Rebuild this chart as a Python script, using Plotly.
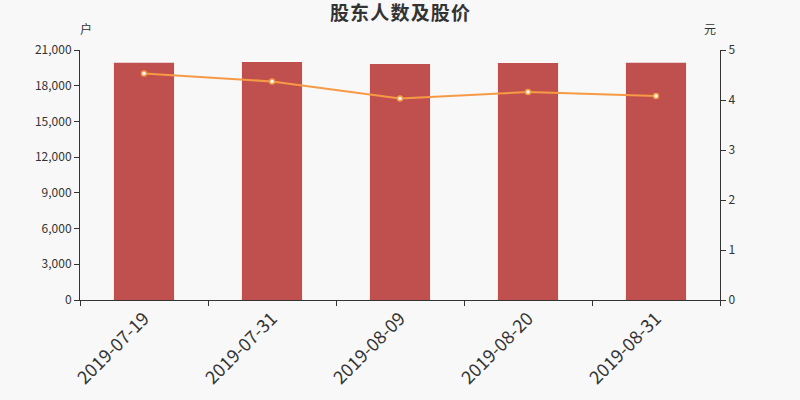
import plotly.graph_objects as go

dates = ["2019-07-19", "2019-07-31", "2019-08-09", "2019-08-20", "2019-08-31"]
holders = [19930, 19990, 19830, 19900, 19930]
price = [4.53, 4.37, 4.03, 4.16, 4.08]

font_cn = "Noto Sans CJK SC, DejaVu Sans, sans-serif"

fig = go.Figure()
fig.add_trace(go.Bar(x=dates, y=holders, name="股东人数", marker_color="#c0504d",
                     marker_line_width=0, width=0.47, yaxis="y"))
fig.add_trace(go.Scatter(x=dates, y=price, name="股价", mode="lines+markers",
                         line=dict(color="#f79a45", width=2),
                         marker=dict(size=5, color="#ffffff", line=dict(color="#f79a45", width=1.5)),
                         yaxis="y2"))

fig.update_layout(
    width=800, height=400,
    paper_bgcolor="#f8f8f8", plot_bgcolor="#f8f8f8",
    margin=dict(l=80, r=80, t=50, b=100),
    showlegend=False,
    title=dict(text="\u200a".join("股东人数及股价"), x=0.5, y=0.967, xanchor="center", yanchor="middle",
               font=dict(family=font_cn, size=19, color="#333333", weight=600)),
    font=dict(family=font_cn, color="#333333"),
    xaxis=dict(type="category", tickangle=-45, tickson="boundaries", ticks="outside",
               ticklen=5, tickcolor="#333333", showline=True, linecolor="#333333",
               showgrid=False, tickfont=dict(size=18, color="#333333")),
    yaxis=dict(range=[0, 21000], dtick=3000, tickformat=",d", showgrid=False,
               showline=True, linecolor="#333333", ticks="outside", ticklen=5,
               tickcolor="#333333", tickfont=dict(size=12, color="#333333"), zeroline=False),
    yaxis2=dict(range=[0, 5], dtick=1, overlaying="y", side="right", showgrid=False,
                showline=True, linecolor="#333333", ticks="outside", ticklen=5,
                tickcolor="#333333", tickfont=dict(size=12, color="#333333"), zeroline=False),
    annotations=[
        dict(text="户", xref="paper", yref="paper", x=0, y=1.0, yshift=22, xshift=-2,
             yanchor="middle", showarrow=False, font=dict(size=12, color="#333333")),
        dict(text="元", xref="paper", yref="paper", x=1, y=1.0, yshift=22, xshift=-2,
             yanchor="middle", showarrow=False, font=dict(size=12, color="#333333")),
    ],
)

fig.write_html("out.html", config={"displayModeBar": False},
               post_script="document.body.style.margin='0';")
